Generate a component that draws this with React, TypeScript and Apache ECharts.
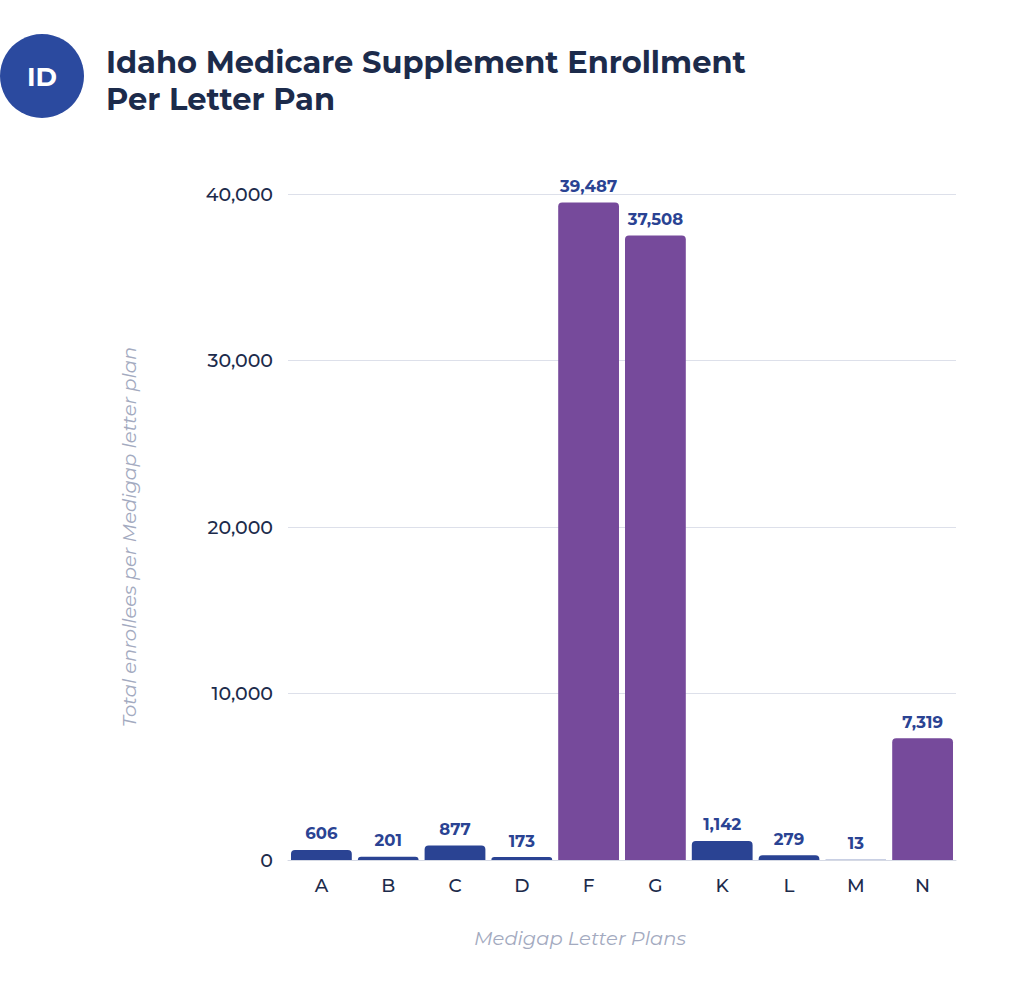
import React, { useEffect, useRef } from "react";
import * as echarts from "echarts";

const categories = ["A", "B", "C", "D", "F", "G", "K", "L", "M", "N"];
const enrollees = [606, 201, 877, 173, 39487, 37508, 1142, 279, 13, 7319];
const highlighted = ["F", "G", "N"];
const yTicks = [0, 10000, 20000, 30000, 40000];

const BLUE = "#2a4393";
const PURPLE = "#764a9b";
const NAVY = "#1c2b4b";
const GRAY = "#a3aac0";
const FONT = "Montserrat, 'Open Sans', Lato, sans-serif";

export default function App() {
  const ref = useRef<HTMLDivElement>(null);
  useEffect(() => {
    if (!ref.current) return;
    const chart = echarts.init(ref.current, null, { renderer: "svg" });
    chart.setOption({
      animation: false,
      backgroundColor: "#ffffff",
      graphic: [
        { type: "circle", shape: { cx: 42, cy: 76, r: 42 }, style: { fill: "#2b4a9f" } },
        {
          type: "text", x: 42, y: 77,
          style: { text: "ID", fill: "#ffffff", font: `bold 26px ${FONT}`, align: "center", verticalAlign: "middle" },
        },
        {
          type: "text", x: 106, y: 46,
          style: { text: "Idaho Medicare Supplement Enrollment", fill: NAVY, font: `bold 30.5px ${FONT}` },
        },
        {
          type: "text", x: 106, y: 83,
          style: { text: "Per Letter Pan", fill: NAVY, font: `bold 30.5px ${FONT}` },
        },
        {
          type: "text", x: 580, y: 938,
          style: {
            text: "Medigap Letter Plans", fill: GRAY, font: `italic 19.5px ${FONT}`,
            align: "center", verticalAlign: "middle",
          },
        },
        {
          type: "text", x: 129, y: 537, rotation: Math.PI / 2,
          style: {
            text: "Total enrollees per Medigap letter plan", fill: GRAY, font: `italic 19.5px ${FONT}`,
            align: "center", verticalAlign: "middle",
          },
        },
      ],
      grid: { left: 288, right: 68, top: 194, bottom: 125, containLabel: false },
      xAxis: {
        type: "category",
        data: categories,
        axisLine: { lineStyle: { color: "#d5d9e4" } },
        axisTick: { show: false },
        axisLabel: { color: NAVY, fontSize: 18.5, fontWeight: 500, fontFamily: FONT, margin: 16 },
      },
      yAxis: {
        type: "value",
        min: 0,
        max: 40000,
        interval: 10000,
        axisLabel: {
          color: NAVY, fontSize: 19, fontWeight: 500, fontFamily: FONT, margin: 15,
          formatter: (v: number) => (yTicks.includes(v) ? v.toLocaleString("en-US") : ""),
        },
        splitLine: { lineStyle: { color: "#dde0ea" } },
        axisLine: { show: false },
        axisTick: { show: false },
      },
      series: [
        {
          type: "bar",
          barCategoryGap: "9%",
          data: enrollees.map((v, i) => ({
            value: v,
            itemStyle: { color: highlighted.includes(categories[i]) ? PURPLE : BLUE, borderRadius: [4, 4, 0, 0] },
          })),
          label: {
            show: true,
            position: "top",
            distance: 8,
            color: BLUE,
            fontWeight: "bold",
            fontSize: 16.5,
            fontFamily: FONT,
            formatter: (p: any) => Number(p.value).toLocaleString("en-US"),
          },
        },
      ],
    });
    return () => chart.dispose();
  }, []);
  return <div ref={ref} style={{ width: 1024, height: 985, position: "absolute", left: 0, top: 0 }} />;
}
